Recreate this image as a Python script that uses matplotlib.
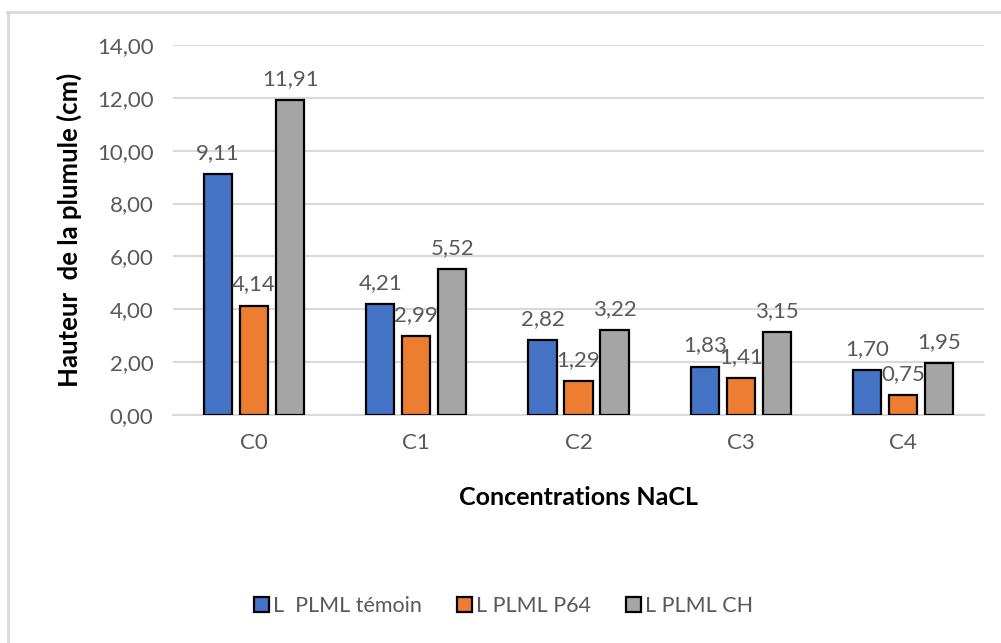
import matplotlib
matplotlib.use("Agg")
import matplotlib.pyplot as plt
import numpy as np
from matplotlib.patches import Rectangle
from matplotlib.lines import Line2D

categories = ["C0", "C1", "C2", "C3", "C4"]
series_names = ["L  PLML témoin", "L PLML P64", "L PLML CH"]
temoin = [9.11, 4.21, 2.82, 1.83, 1.70]
p64 = [4.14, 2.99, 1.29, 1.41, 0.75]
ch = [11.91, 5.52, 3.22, 3.15, 1.95]
colors = ["#4472C4", "#ED7D31", "#A5A5A5"]
yticks = [0, 2, 4, 6, 8, 10, 12, 14]

def fmt(v):
    return f"{v:.2f}".replace(".", ",")

plt.rcParams['font.family'] = ['Lato', 'DejaVu Sans']
fig = plt.figure(figsize=(10.01, 6.43), dpi=100)
ax = fig.add_axes([173/1001, 1-415/643, (984-173)/1001, (415-45)/643])

x = np.arange(len(categories))
width = 0.173
step = 0.222
for i, (vals, col) in enumerate(zip([temoin, p64, ch], colors)):
    pos = x + (i - 1) * step
    ax.bar(pos, vals, width, color=col, edgecolor="black", linewidth=1.6,
           label=series_names[i], zorder=3)
    for px, v in zip(pos, vals):
        ax.annotate(fmt(v), (px, v), xytext=(0, 8), textcoords="offset points",
                    ha="center", va="bottom", fontsize=16, color="#595959", zorder=4)

ax.set_xlim(-0.5, len(categories) - 0.5)
ax.set_ylim(0, 14)
ax.set_yticks(yticks)
ax.set_yticklabels([fmt(v) for v in yticks], fontsize=16, color="#595959")
ax.set_xticks(x)
ax.set_xticklabels(categories, fontsize=16, color="#595959")
ax.tick_params(axis="both", length=0, pad=14)
ax.tick_params(axis="x", pad=13)
ax.grid(axis="y", color="#D9D9D9", linewidth=1.5, zorder=0)
for s in ["top", "right", "left"]:
    ax.spines[s].set_visible(False)
ax.spines["bottom"].set_color("#D9D9D9")
ax.spines["bottom"].set_linewidth(1.5)

ax.set_ylabel("Hauteur  de la plumule (cm)", fontsize=18.5, fontweight="bold", color="black", labelpad=11)
ax.set_xlabel("Concentrations NaCL", fontsize=18, fontweight="bold", color="black", labelpad=24)

handles = [Rectangle((0, 0), 1, 1, facecolor=c, edgecolor="black", linewidth=1.6) for c in colors]
fig.legend(handles, series_names, loc="center", bbox_to_anchor=(0.503, 1-606/643), ncol=3,
           frameon=False, fontsize=15.5, labelcolor="#595959", handlelength=0.7, handleheight=0.7,
           handletextpad=0.2, columnspacing=1.6)

# outer border (top and left visible)
fig.add_artist(Line2D([7/1001, 1], [1-12/643, 1-12/643], color="#D9D9D9", linewidth=2, transform=fig.transFigure))
fig.add_artist(Line2D([8/1001, 8/1001], [0, 1-12/643], color="#D9D9D9", linewidth=2, transform=fig.transFigure))

fig.savefig("out.png", dpi=100)
